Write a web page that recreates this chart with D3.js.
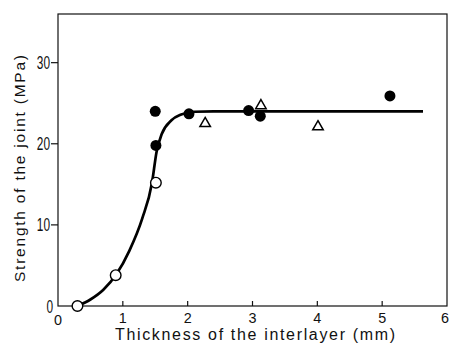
<!DOCTYPE html>
<html><head><meta charset="utf-8">
<script src="https://cdn.jsdelivr.net/npm/d3@7"></script>
<style>body{margin:0;background:#fff}svg{display:block}</style>
</head><body>
<script>
const xTicks = [0,1,2,3,4,5,6];
const yTicks = [0,10,20,30];
const openPts = [[0.3,0],[0.89,3.8],[1.51,15.2]];
const filledPts = [[1.5,24.0],[1.51,19.8],[2.02,23.7],[2.94,24.1],[3.12,23.4],[5.12,25.9]];
const triPts = [[2.27,22.5],[3.13,24.7],[4.01,22.1]];
const curvePts = [[0.3,0],[0.5,0.8],[0.7,2.0],[0.9,3.9],[1.1,6.8],[1.3,10.8],[1.45,15.2],[1.52,19.0],[1.6,21.2],[1.75,22.9],[1.9,23.6],[2.1,23.95],[2.4,24.0],[5.63,24.0]];
const xTitle = "Thickness of the interlayer (mm)";
const yTitle = "Strength of the joint (MPa)";

const W=450,H=347;
const svg=d3.select("body").append("svg").attr("width",W).attr("height",H);
const x=d3.scaleLinear().domain([0,6]).range([58,447]);
const y=d3.scaleLinear().domain([0,36]).range([306,14]);
const font="'Liberation Sans',Arial,sans-serif";

// frame
svg.append("rect").attr("x",58).attr("y",14).attr("width",389).attr("height",292)
  .attr("fill","none").attr("stroke","#111").attr("stroke-width",1.2);

// x ticks (inward)
svg.append("g").selectAll("line").data(xTicks.slice(1,-1)).join("line")
  .attr("x1",d=>x(d)).attr("x2",d=>x(d)).attr("y1",306).attr("y2",301)
  .attr("stroke","#111").attr("stroke-width",1.2);
svg.append("g").selectAll("text").data(xTicks).join("text")
  .attr("x",d=>d===6?445:x(d)).attr("y",d=>d===0?325:323).attr("text-anchor","middle")
  .attr("font-family",font).attr("font-size",15.5).attr("fill","#111")
  .attr("textLength",8).attr("lengthAdjust","spacingAndGlyphs").text(d=>d);

// y ticks (outward)
svg.append("g").selectAll("line").data(yTicks.slice(1)).join("line")
  .attr("x1",58).attr("x2",51).attr("y1",d=>y(d)).attr("y2",d=>y(d))
  .attr("stroke","#111").attr("stroke-width",1.2);
svg.append("g").selectAll("text").data(yTicks).join("text")
  .attr("x",d=>d===0?53:50).attr("y",d=>y(d)+6.5).attr("text-anchor","end")
  .attr("font-family",font).attr("font-size",18).attr("fill","#111")
  .attr("textLength",d=>6.6*String(d).length).attr("lengthAdjust","spacingAndGlyphs").text(d=>d);

// curve
svg.append("path").datum(curvePts)
  .attr("d",d3.line().x(d=>x(d[0])).y(d=>y(d[1])).curve(d3.curveMonotoneX))
  .attr("fill","none").attr("stroke","#000").attr("stroke-width",2.7);

// markers
svg.append("g").selectAll("circle").data(openPts).join("circle")
  .attr("cx",d=>x(d[0])).attr("cy",d=>y(d[1])).attr("r",5.3)
  .attr("fill","#fff").attr("stroke","#000").attr("stroke-width",1.4);
svg.append("g").selectAll("circle").data(filledPts).join("circle")
  .attr("cx",d=>x(d[0])).attr("cy",d=>y(d[1])).attr("r",5.5).attr("fill","#000");
const tri=d3.symbol().type(d3.symbolTriangle).size(48);
svg.append("g").selectAll("path").data(triPts).join("path")
  .attr("d",tri).attr("transform",d=>`translate(${x(d[0])},${y(d[1])})`)
  .attr("fill","#fff").attr("stroke","#000").attr("stroke-width",1.5);

// titles
svg.append("text").attr("x",255).attr("y",340).attr("text-anchor","middle")
  .attr("font-family",font).attr("font-size",16).attr("fill","#111")
  .attr("textLength",280).attr("lengthAdjust","spacing").text(xTitle);
svg.append("text").attr("transform","translate(25,168.5) rotate(-90)").attr("text-anchor","middle")
  .attr("font-family",font).attr("font-size",15.5).attr("fill","#111")
  .attr("textLength",227).attr("lengthAdjust","spacing").text(yTitle);
</script>
</body></html>
